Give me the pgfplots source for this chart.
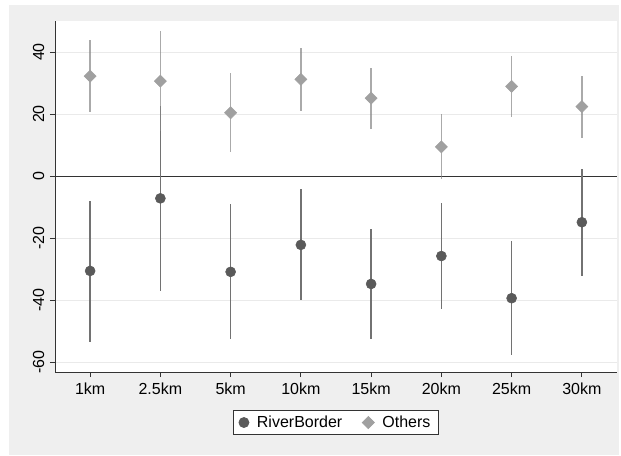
\documentclass[border=0pt]{standalone}
\usepackage{fontspec}
\setmainfont{Liberation Sans}
\usepackage{pgfplots}
\usepackage{pgfplotstable}
\pgfplotsset{compat=1.18}
\definecolor{bgray}{HTML}{EFEFEF}
\definecolor{gridc}{HTML}{EAEAEA}
\definecolor{darkm}{HTML}{5A5A5A}
\definecolor{darkb}{HTML}{727272}
\definecolor{lightm}{HTML}{A0A0A0}
\definecolor{lightb}{HTML}{868686}
\definecolor{axc}{HTML}{333333}

\pgfplotstableread{
x y ep em
0 -30.6 22.5 22.9
1 -7.2 29.9 29.9
2 -30.9 21.8 21.5
3 -22.2 18.1 17.8
4 -34.8 17.6 17.9
5 -25.8 17.2 17.2
6 -39.4 18.3 18.3
7 -14.9 17.2 17.4
}\river

\pgfplotstableread{
x y ep em
0 32.2 11.6 11.5
1 30.6 16.1 16.0
2 20.4 12.8 12.6
3 31.2 10.2 10.2
4 25.1 9.8 9.9
5 9.4 10.5 10.4
6 28.9 9.9 9.9
7 22.4 10.0 10.2
}\others

\begin{document}
\fontsize{12}{14}\selectfont
\begin{tikzpicture}
\useasboundingbox (0,0) rectangle (465.75pt,341.25pt);
\fill[bgray] (6.75pt,0pt) rectangle (464.25pt,337.5pt);
\begin{axis}[
  at={(41.25pt,62.25pt)}, anchor=south west,
  scale only axis, width=421.5pt, height=263.25pt,
  xmin=-0.5, xmax=7.5, ymin=-63.2, ymax=50,
  axis background/.style={fill=white},
  axis x line*=bottom, axis y line*=left,
  axis line style={axc, line width=0.75pt},
  xtick={0,...,7},
  xticklabels={1km,2.5km,5km,10km,15km,20km,25km,30km},
  ytick={-60,-40,-20,0,20,40},
  yticklabels={-60,-40,-20,0,20,40},
  yticklabel style={rotate=90, anchor=south},
  tick align=outside, major tick length=3.75pt,
  tick style={axc, line width=0.6pt},
  ymajorgrids, grid style={gridc, line width=0.75pt},
  ticklabel style={font=\fontsize{12}{14}\selectfont},
  /pgf/number format/assume math mode=true,
  legend columns=2,
  legend style={at={(0.5,-0.1439)}, anchor=center, draw=axc, line width=0.6pt,
    font=\fontsize{12}{14}\selectfont, inner xsep=4pt, inner ysep=2pt,
    /tikz/every odd column/.append style={column sep=4pt},
    /tikz/every even column/.append style={column sep=13pt}},
]
\addplot[axc, line width=0.8pt, forget plot] coordinates {(-0.5,0) (7.5,0)};
\addplot[only marks, mark=*, mark size=3.75pt, mark options={fill=darkm, draw=darkm},
  error bars/.cd, y dir=both, y explicit, error mark=none,
  error bar style={darkb, line width=1pt}]
  table[x=x, y=y, y error plus=ep, y error minus=em] {\river};
\addlegendentry{RiverBorder}
\addplot[only marks, mark=square*, mark size=3.2pt, mark options={rotate=45, fill=lightm, draw=lightm},
  error bars/.cd, y dir=both, y explicit, error mark=none,
  error bar style={lightb, line width=1pt, opacity=0.7}]
  table[x=x, y=y, y error plus=ep, y error minus=em] {\others};
\addlegendentry{Others}
\end{axis}
\end{tikzpicture}
\end{document}
